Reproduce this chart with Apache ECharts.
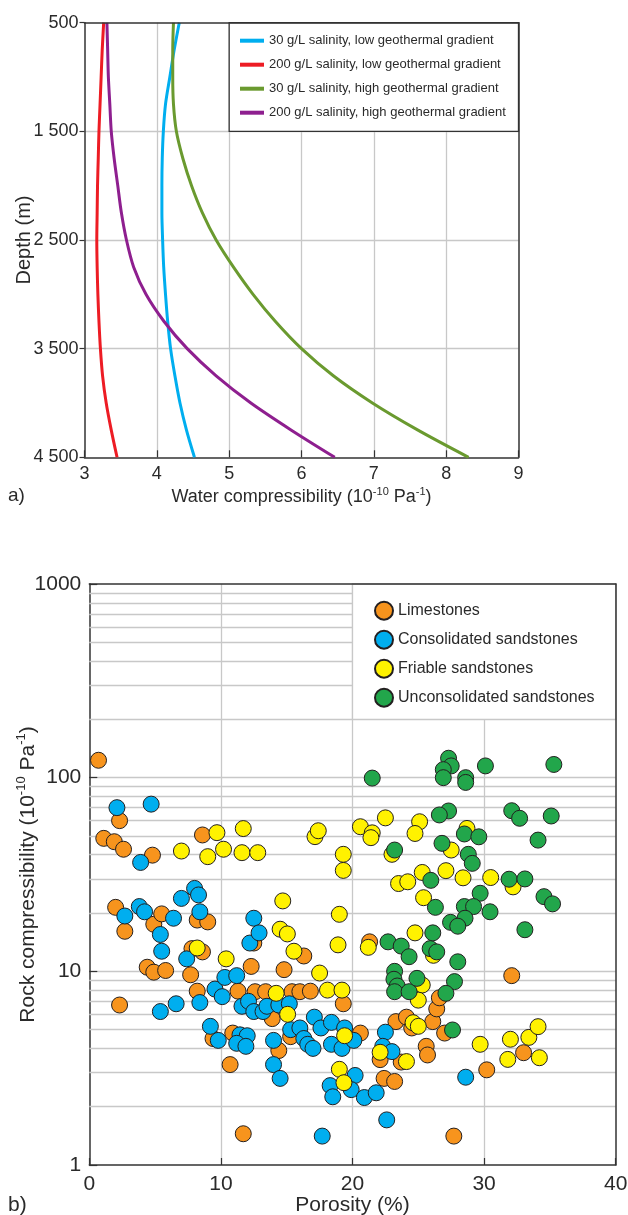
<!DOCTYPE html>
<html>
<head>
<meta charset="utf-8">
<style>
  html, body { margin: 0; padding: 0; background: #fff; }
  #chart { width: 628px; height: 1215px; }
</style>
<script src="https://cdn.jsdelivr.net/npm/echarts@6/dist/echarts.min.js"></script>
</head>
<body>
<div id="chart"></div>
<script>
// a) water compressibility vs depth (values in 1e-10 Pa^-1)
const depths = [500, 750, 1000, 1250, 1500, 1750, 2000, 2250, 2500, 2750, 3000, 3250, 3500, 3750, 4000, 4250, 4500];
const low30 = [4.31, 4.24, 4.18, 4.12, 4.09, 4.075, 4.07, 4.07, 4.08, 4.095, 4.12, 4.15, 4.19, 4.25, 4.32, 4.41, 4.52];
const low200 = [3.265, 3.245, 3.23, 3.215, 3.2, 3.19, 3.18, 3.175, 3.17, 3.175, 3.185, 3.2, 3.22, 3.25, 3.3, 3.37, 3.45];
const high30 = [4.23, 4.22, 4.22, 4.23, 4.27, 4.36, 4.48, 4.63, 4.82, 5.06, 5.33, 5.64, 6.0, 6.44, 6.98, 7.61, 8.31];
const high200 = [3.31, 3.32, 3.33, 3.35, 3.37, 3.41, 3.46, 3.51, 3.58, 3.68, 3.85, 4.1, 4.42, 4.82, 5.3, 5.86, 6.46];
const waterNames = [
  "30 g/L salinity, low geothermal gradient",
  "200 g/L salinity, low geothermal gradient",
  "30 g/L salinity, high geothermal gradient",
  "200 g/L salinity, high geothermal gradient",
];

// b) rock compressibility vs porosity: [porosity %, compressibility 1e-10 Pa^-1]
const limestones = [
  [0.7, 123], [1.1, 48.6], [1.9, 46.7], [2.3, 60], [2.6, 42.7], [4.8, 39.8], [8.6, 50.6],
  [2.0, 21.4], [2.7, 16.1], [4.9, 17.5], [5.5, 19.8], [4.4, 10.5], [4.9, 9.9], [5.8, 10.1],
  [2.3, 6.7], [7.7, 9.6], [8.2, 18.4], [9.0, 18.0], [7.8, 13.1], [8.6, 12.6], [8.2, 7.9],
  [9.4, 4.5], [10.9, 4.8], [10.7, 3.3], [11.3, 7.9], [12.3, 10.6], [12.5, 14.0], [12.6, 7.85],
  [13.4, 7.85], [13.9, 5.7], [14.4, 3.9], [14.8, 10.2], [15.4, 7.85], [16.0, 7.85], [16.8, 7.9],
  [16.3, 12.0], [11.7, 1.45], [15.3, 4.6], [19.3, 6.8], [21.3, 14.2], [20.6, 4.8], [23.3, 5.5],
  [24.1, 5.8], [24.5, 5.1], [26.1, 5.5], [26.4, 6.4], [27.0, 4.8], [25.6, 4.1], [25.7, 3.7],
  [22.1, 3.5], [23.7, 3.4], [22.4, 2.8], [23.2, 2.7], [27.7, 1.41], [30.2, 3.1], [33.0, 3.8],
  [32.1, 9.5], [26.6, 7.3],
];
const consolidated = [
  [2.1, 70], [4.7, 73], [3.9, 36.5], [8.0, 26.8], [8.3, 24.8], [7.0, 23.8], [8.4, 20.3],
  [3.8, 21.6], [4.2, 20.3], [2.7, 19.3], [6.4, 18.8], [5.4, 15.5], [5.5, 12.7], [12.5, 18.8],
  [12.2, 14.0], [12.9, 15.8], [7.4, 11.6], [5.4, 6.2], [6.6, 6.8], [8.4, 6.9], [9.55, 8.1],
  [10.1, 7.4], [10.3, 9.3], [11.2, 9.5], [9.2, 5.2], [9.8, 4.4], [11.45, 4.7], [12.0, 4.65],
  [11.2, 4.25], [11.9, 4.1], [11.6, 6.6], [12.1, 7.0], [12.5, 6.2], [13.2, 6.2], [13.5, 6.6],
  [14.4, 6.7], [15.2, 6.8], [14.0, 4.4], [14.0, 3.3], [14.5, 2.8], [15.3, 5.0], [16.0, 5.1],
  [16.3, 4.5], [16.6, 4.2], [17.0, 4.0], [17.1, 5.8], [17.6, 5.1], [18.4, 5.45], [19.4, 5.1],
  [18.4, 4.2], [19.2, 4.0], [20.1, 4.4], [22.5, 4.85], [22.3, 4.1], [23.0, 3.85], [18.3, 2.57],
  [18.5, 2.25], [20.2, 2.9], [19.9, 2.45], [20.9, 2.23], [21.8, 2.36], [22.6, 1.71], [17.7, 1.41],
  [28.6, 2.84],
];
const friable = [
  [7.0, 41.8], [9.0, 39.1], [9.7, 52], [10.2, 42.7], [11.7, 54.6], [11.6, 41], [12.8, 41],
  [17.15, 49.6], [17.4, 53.2], [19.3, 40.2], [19.3, 33.2], [20.6, 55.8], [21.5, 51.9], [21.4, 49],
  [22.5, 62], [23.0, 40.2], [23.5, 28.4], [24.2, 29], [14.7, 23.1], [19.0, 19.7], [14.5, 16.5],
  [15.05, 15.6], [18.9, 13.7], [15.55, 12.7], [21.2, 13.3], [8.2, 13.2], [10.4, 11.6], [14.2, 7.7],
  [15.07, 6.0], [17.5, 9.8], [18.1, 8.0], [19.2, 8.0], [19.4, 4.65], [22.1, 3.82], [19.0, 3.12],
  [19.35, 2.66], [24.1, 3.42], [24.6, 5.43], [25.0, 5.2], [24.75, 15.8], [25.3, 8.5], [25.0, 7.1],
  [29.7, 4.2], [32.0, 4.46], [33.4, 4.56], [34.1, 5.18], [31.8, 3.51], [34.2, 3.58], [25.3, 32.4],
  [27.1, 33.1], [28.4, 30.4], [30.5, 30.5], [25.4, 24], [26.15, 12.1], [25.1, 59.2], [24.75, 51.5],
  [28.7, 54.7], [27.5, 42.3], [32.2, 27.3],
];
const unconsolidated = [
  [21.5, 99.5], [27.3, 126], [27.5, 115], [26.9, 110], [26.9, 100], [28.6, 100], [28.6, 94.5],
  [30.1, 115], [35.3, 117], [27.3, 67.3], [26.6, 64.2], [28.5, 51.2], [29.6, 49.5], [26.8, 45.8],
  [28.8, 40.2], [29.1, 36.1], [32.1, 67.5], [32.7, 61.7], [35.1, 63.4], [34.1, 47.6], [23.2, 42.3],
  [25.95, 29.5], [26.3, 21.4], [29.7, 25.3], [28.5, 21.6], [29.2, 21.6], [28.55, 18.8], [30.45, 20.3],
  [27.45, 17.9], [28.0, 17.1], [31.9, 29.9], [33.1, 30], [34.55, 24.3], [35.2, 22.3], [33.1, 16.4],
  [26.1, 15.8], [22.7, 14.2], [23.7, 13.5], [24.3, 11.9], [25.9, 13.1], [26.4, 12.6], [28.0, 11.2],
  [23.2, 10.0], [23.15, 9.1], [23.4, 8.4], [23.2, 7.85], [24.3, 7.85], [24.9, 9.2], [27.75, 8.85],
  [27.1, 7.7], [27.6, 4.98],
];
const rockNames = ["Limestones", "Consolidated sandstones", "Friable sandstones", "Unconsolidated sandstones"];
const minorGridValues = [2, 3, 4, 5, 6, 7, 8, 9, 20, 30, 40, 50, 60, 70, 80, 90, 200, 300, 400, 500, 600, 700, 800, 900];

const waterColors = ["#00aeef", "#ed1c24", "#6a9a2f", "#8e1f8f"];
const rockColors = ["#f7941d", "#00aeef", "#fff200", "#22a64b"];
const TEXT = "#2a2a2a";
const AXIS = "#333333";
const GRID = "#c8c8c8";
const FONT = "'Liberation Sans', Arial, sans-serif";

const chart = echarts.init(document.getElementById("chart"), null, { renderer: "canvas" });

const supRich = size => ({
  sup: { fontSize: size, verticalAlign: "top", lineHeight: size, fontFamily: FONT, color: TEXT },
});

function borderAxis(gridIndex, position, extra) {
  return Object.assign({
    gridIndex, position, type: "value",
    axisLine: { show: true, onZero: false, lineStyle: { color: AXIS, width: 1.5 } },
    axisTick: { show: false }, axisLabel: { show: false }, splitLine: { show: false },
    z: 5,
  }, extra);
}

const waterSeries = [low30, low200, high30, high200].map((vals, i) => ({
  name: waterNames[i],
  type: "line",
  xAxisIndex: 0,
  yAxisIndex: 0,
  data: depths.map((d, j) => [vals[j], d]),
  smooth: 0.3,
  showSymbol: false,
  lineStyle: { color: waterColors[i], width: 3 },
  itemStyle: { color: waterColors[i] },
  z: 3,
}));

const rockSeries = [limestones, consolidated, friable, unconsolidated].map((pts, i) => ({
  name: rockNames[i],
  type: "scatter",
  xAxisIndex: 1,
  yAxisIndex: 1,
  data: pts,
  symbolSize: 16,
  itemStyle: { color: rockColors[i], borderColor: "#231f20", borderWidth: 1, opacity: 1 },
  z: 3,
}));

chart.setOption({
  animation: false,
  textStyle: { fontFamily: FONT, color: TEXT },
  grid: [
    { left: 84.5, top: 22.7, width: 434, height: 434.6, outerBoundsMode: "none", containLabel: false },
    { left: 89.3, top: 584, width: 526.4, height: 581, outerBoundsMode: "none", containLabel: false },
  ],
  xAxis: [
    {
      gridIndex: 0, type: "value", min: 3, max: 9, interval: 1,
      name: "Water compressibility (10{sup|-10} Pa{sup|-1})",
      nameLocation: "middle", nameGap: 29, nameMoveOverlap: false,
      nameTextStyle: { fontSize: 18, lineHeight: 22, color: TEXT, rich: supRich(11) },
      axisLine: { onZero: false, lineStyle: { color: AXIS, width: 1.5 } },
      axisTick: { inside: true, length: 7, lineStyle: { color: AXIS, width: 1.2 } },
      axisLabel: { fontSize: 18, color: TEXT, margin: 8 },
      splitLine: { show: true, showMinLine: false, showMaxLine: false, lineStyle: { color: GRID, width: 1.3 } },
    },
    {
      gridIndex: 1, type: "value", min: 0, max: 40, interval: 10,
      name: "Porosity (%)",
      nameLocation: "middle", nameGap: 28, nameMoveOverlap: false,
      nameTextStyle: { fontSize: 21, lineHeight: 24, color: TEXT },
      axisLine: { onZero: false, lineStyle: { color: AXIS, width: 1.5 } },
      axisTick: { inside: true, length: 7, lineStyle: { color: AXIS, width: 1.2 } },
      axisLabel: { fontSize: 21, color: TEXT, margin: 9 },
      splitLine: { show: true, showMinLine: false, showMaxLine: false, lineStyle: { color: GRID, width: 1.3 } },
    },
    borderAxis(0, "top", { min: 3, max: 9 }),
    borderAxis(1, "top", { min: 0, max: 40 }),
  ],
  yAxis: [
    {
      gridIndex: 0, type: "value", min: 500, max: 4500, interval: 1000, inverse: true,
      name: "Depth (m)",
      nameLocation: "middle", nameGap: 48.5, nameMoveOverlap: false,
      nameTextStyle: { fontSize: 20, lineHeight: 24, color: TEXT },
      axisLine: { onZero: false, lineStyle: { color: AXIS, width: 1.5 } },
      axisTick: { inside: false, length: 5, lineStyle: { color: AXIS, width: 1.2 } },
      axisLabel: {
        fontSize: 18, color: TEXT, margin: 6,
        formatter: v => v >= 1000 ? Math.floor(v / 1000) + " " + String(v % 1000).padStart(3, "0") : String(v),
      },
      splitLine: { show: true, showMinLine: false, showMaxLine: false, lineStyle: { color: GRID, width: 1.3 } },
    },
    {
      gridIndex: 1, type: "log", logBase: 10, min: 1, max: 1000,
      name: "Rock compressibility (10{sup|-10} Pa{sup|-1})",
      nameLocation: "middle", nameGap: 49, nameMoveOverlap: false,
      nameTextStyle: { fontSize: 21, lineHeight: 25, color: TEXT, rich: supRich(13) },
      axisLine: { onZero: false, lineStyle: { color: AXIS, width: 1.5 } },
      axisTick: { inside: true, length: 8, lineStyle: { color: AXIS, width: 1.2 } },
      axisLabel: { fontSize: 21, color: TEXT, margin: 8, formatter: v => String(Math.round(v)) },
      splitLine: { show: true, showMinLine: false, showMaxLine: false, lineStyle: { color: GRID, width: 1.3 } },
    },
    borderAxis(0, "right", { min: 500, max: 4500, inverse: true }),
    borderAxis(1, "right", { min: 0, max: 1 }),
  ],
  legend: [
    {
      data: waterNames, orient: "vertical", left: 240, top: 32.7, padding: 0,
      icon: "rect", itemWidth: 24, itemHeight: 4, itemGap: 8,
      textStyle: { fontSize: 13, lineHeight: 16, color: TEXT, fontFamily: FONT },
    },
    {
      data: rockNames, orient: "vertical", left: 374, top: 600.7, padding: 0,
      icon: "circle", itemWidth: 18, itemHeight: 18, itemGap: 9,
      textStyle: { fontSize: 16, lineHeight: 20, color: TEXT, fontFamily: FONT },
    },
  ],
  graphic: [
    { type: "text", left: 8, top: 486, style: { text: "a)", fontSize: 19, fill: TEXT, fontFamily: FONT } },
    { type: "text", left: 8, top: 1195, style: { text: "b)", fontSize: 21, fill: TEXT, fontFamily: FONT } },
  ],
  series: [
    {
      // legend box of panel a)
      type: "line", xAxisIndex: 0, yAxisIndex: 0, data: [], silent: true,
      markArea: {
        silent: true, z: 1.5,
        itemStyle: { color: "#ffffff", borderColor: AXIS, borderWidth: 1.3 },
        data: [[{ xAxis: 5, yAxis: 500 }, { xAxis: 9, yAxis: 1500 }]],
      },
    },
    {
      // minor log gridlines of panel b)
      type: "scatter", xAxisIndex: 1, yAxisIndex: 1, data: [], silent: true,
      markLine: {
        silent: true, z: 1, symbol: "none", label: { show: false }, animation: false,
        lineStyle: { color: GRID, width: 1.3, type: "solid" },
        emphasis: { disabled: true },
        data: minorGridValues.map(v => ({ yAxis: v })),
      },
    },
    {
      // legend box of panel b)
      type: "scatter", xAxisIndex: 1, yAxisIndex: 1, data: [], silent: true,
      markArea: {
        silent: true, z: 1.5,
        itemStyle: { color: "#ffffff", borderColor: GRID, borderWidth: 1.3 },
        data: [[{ xAxis: 20, yAxis: 200 }, { xAxis: 40, yAxis: 1000 }]],
      },
    },
    ...waterSeries,
    ...rockSeries,
  ],
});
</script>
</body>
</html>
